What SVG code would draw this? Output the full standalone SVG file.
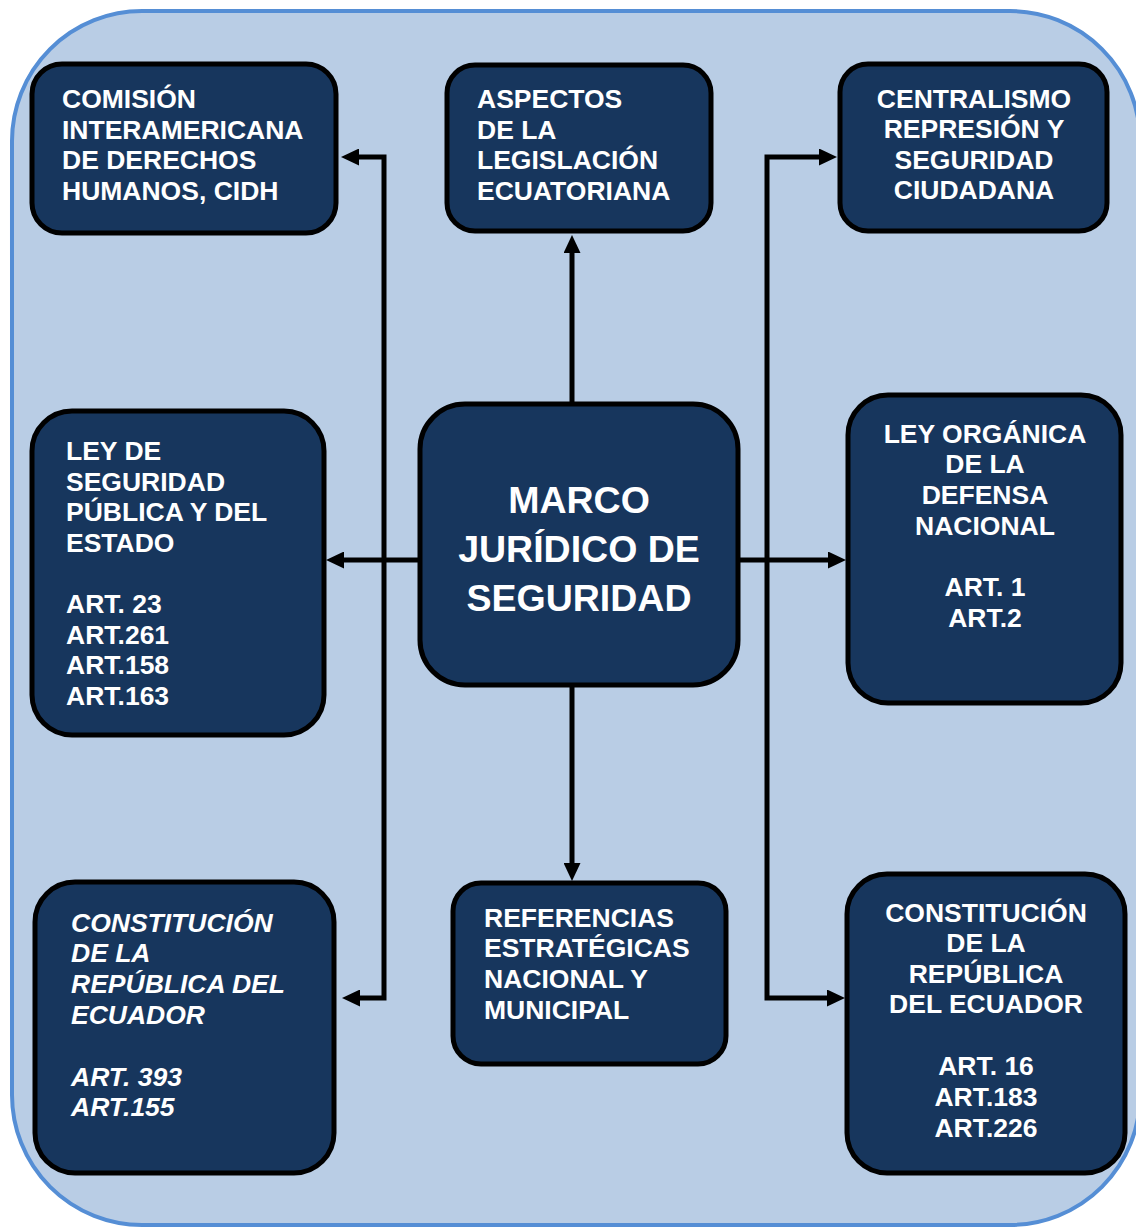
<svg xmlns="http://www.w3.org/2000/svg" width="1136" height="1227" viewBox="0 0 1136 1227">
<style>
.bg{fill:#b9cde5;stroke:#558ed5;stroke-width:4}
.box{fill:#17365d;stroke:#000;stroke-width:5}
.t{font-family:"Liberation Sans",Arial,Helvetica,sans-serif;font-weight:bold;font-size:26.5px;fill:#fff}
.c{text-anchor:middle}
.i{font-style:italic}
.big{font-size:37.5px}
.conn{fill:none;stroke:#000;stroke-width:5;stroke-linejoin:miter}
</style>
<defs>
<marker id="ah" markerUnits="userSpaceOnUse" markerWidth="18" markerHeight="17" refX="4" refY="8.5" orient="auto">
<path d="M0,0 L18,8.5 L0,17 z" fill="#000"/>
</marker>
</defs>
<rect class="bg" x="12" y="11" width="1128" height="1214" rx="130" ry="130"/>
<g id="connectors">
<path class="conn" d="M572,404 L572,249" marker-end="url(#ah)"/>
<path class="conn" d="M572,687 L572,867" marker-end="url(#ah)"/>
<path class="conn" d="M420,560 L340,560" marker-end="url(#ah)"/>
<path class="conn" d="M738,560 L832,560" marker-end="url(#ah)"/>
<path class="conn" d="M384,560 L384,157 L355,157" marker-end="url(#ah)"/>
<path class="conn" d="M384,560 L384,998 L356,998" marker-end="url(#ah)"/>
<path class="conn" d="M767,560 L767,157 L823,157" marker-end="url(#ah)"/>
<path class="conn" d="M767,560 L767,998 L831,998" marker-end="url(#ah)"/>
</g>
<g id="node-cidh">
<rect class="box" x="32" y="64" width="304" height="169" rx="30"/>
<text class="t" x="62" y="108">COMISIÓN</text>
<text class="t" x="62" y="138.5">INTERAMERICANA</text>
<text class="t" x="62" y="169">DE DERECHOS</text>
<text class="t" x="62" y="200">HUMANOS, CIDH</text>
</g>
<g id="node-aspectos">
<rect class="box" x="447" y="65" width="264" height="166" rx="28"/>
<text class="t" x="477" y="108">ASPECTOS</text>
<text class="t" x="477" y="138.5">DE LA</text>
<text class="t" x="477" y="169">LEGISLACIÓN</text>
<text class="t" x="477" y="200">ECUATORIANA</text>
</g>
<g id="node-centralismo">
<rect class="box" x="840" y="64" width="267" height="167" rx="28"/>
<text class="t c" x="974" y="108">CENTRALISMO</text>
<text class="t c" x="974" y="138">REPRESIÓN Y</text>
<text class="t c" x="974" y="169">SEGURIDAD</text>
<text class="t c" x="974" y="199">CIUDADANA</text>
</g>
<g id="node-ley-seguridad">
<rect class="box" x="32" y="411" width="292" height="324" rx="40"/>
<text class="t" x="66" y="460">LEY DE</text>
<text class="t" x="66" y="490.5">SEGURIDAD</text>
<text class="t" x="66" y="521">PÚBLICA Y DEL</text>
<text class="t" x="66" y="552">ESTADO</text>
<text class="t" x="66" y="613">ART. 23</text>
<text class="t" x="66" y="644">ART.261</text>
<text class="t" x="66" y="674">ART.158</text>
<text class="t" x="66" y="705">ART.163</text>
</g>
<g id="node-marco">
<rect class="box" x="420" y="404" width="318" height="281" rx="45"/>
<text class="t c big" x="579" y="513">MARCO</text>
<text class="t c big" x="579" y="562">JURÍDICO DE</text>
<text class="t c big" x="579" y="611">SEGURIDAD</text>
</g>
<g id="node-ley-organica">
<rect class="box" x="848" y="395" width="273" height="308" rx="40"/>
<text class="t c" x="985" y="443">LEY ORGÁNICA</text>
<text class="t c" x="985" y="473">DE LA</text>
<text class="t c" x="985" y="504">DEFENSA</text>
<text class="t c" x="985" y="535">NACIONAL</text>
<text class="t c" x="985" y="596">ART. 1</text>
<text class="t c" x="985" y="627">ART.2</text>
</g>
<g id="node-constitucion-izq">
<rect class="box" x="35" y="882" width="299" height="291" rx="40"/>
<text class="t i" x="71" y="932">CONSTITUCIÓN</text>
<text class="t i" x="71" y="962">DE LA</text>
<text class="t i" x="71" y="993">REPÚBLICA DEL</text>
<text class="t i" x="71" y="1024">ECUADOR</text>
<text class="t i" x="71" y="1086">ART. 393</text>
<text class="t i" x="71" y="1116">ART.155</text>
</g>
<g id="node-referencias">
<rect class="box" x="453" y="883" width="273" height="181" rx="28"/>
<text class="t" x="484" y="927">REFERENCIAS</text>
<text class="t" x="484" y="957">ESTRATÉGICAS</text>
<text class="t" x="484" y="988">NACIONAL Y</text>
<text class="t" x="484" y="1019">MUNICIPAL</text>
</g>
<g id="node-constitucion-der">
<rect class="box" x="847" y="874" width="278" height="299" rx="40"/>
<text class="t c" x="986" y="922">CONSTITUCIÓN</text>
<text class="t c" x="986" y="952">DE LA</text>
<text class="t c" x="986" y="983">REPÚBLICA</text>
<text class="t c" x="986" y="1013">DEL ECUADOR</text>
<text class="t c" x="986" y="1075">ART. 16</text>
<text class="t c" x="986" y="1106">ART.183</text>
<text class="t c" x="986" y="1137">ART.226</text>
</g>
</svg>
